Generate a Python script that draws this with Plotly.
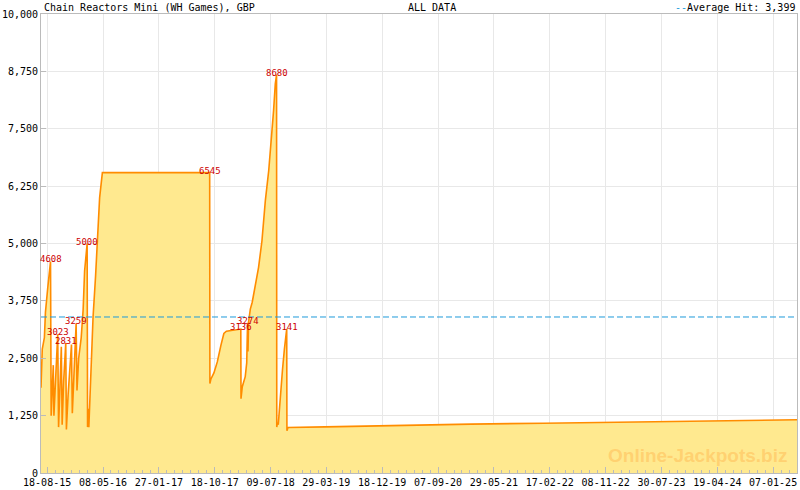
import plotly.graph_objects as go
import pandas as pd

title_text = "Chain Reactors Mini (WH Games), GBP"
period_text = "ALL DATA"
avg_hit = 3399

dates = [
    "2015-07-20", "2015-07-26", "2015-08-05", "2015-08-10", "2015-08-21", "2015-08-29", "2015-09-03",
    "2015-09-06", "2015-09-16", "2015-09-19", "2015-09-28", "2015-10-07",
    "2015-10-11", "2015-10-17", "2015-10-24", "2015-10-28", "2015-11-04", "2015-11-14",
    "2015-11-17", "2015-11-25", "2015-12-05", "2015-12-11", "2015-12-15", "2015-12-24", "2016-01-02",
    "2016-01-06", "2016-01-14", "2016-01-26", "2016-02-04", "2016-02-11", "2016-02-23",
    "2016-02-25", "2016-02-28", "2016-03-02", "2016-03-06", "2016-03-13", "2016-03-22", "2016-04-03",
    "2016-04-13", "2016-04-22", "2016-05-05", "2017-09-24",
    "2017-09-25", "2017-09-30", "2017-10-14", "2017-10-30", "2017-11-16", "2017-11-30", "2017-12-12",
    "2018-02-18",
    "2018-02-19", "2018-02-25", "2018-03-11", "2018-03-18", "2018-03-22", "2018-03-24", "2018-03-27",
    "2018-04-04", "2018-04-13", "2018-04-27", "2018-05-13", "2018-05-29", "2018-06-14", "2018-06-30",
    "2018-07-16", "2018-07-23", "2018-07-31", "2018-08-06",
    "2018-08-07", "2018-08-10", "2018-08-14", "2018-08-24", "2018-09-03", "2018-09-12", "2018-09-23",
    "2018-09-24", "2018-09-29", "2019-03-24", "2020-03-02", "2021-02-09", "2022-01-19",
    "2022-12-29", "2023-12-09", "2024-11-17", "2025-04-30",
]
values = [
    1860, 2700, 2950, 3500, 4040, 4335, 4608,
    1250, 2350, 1250, 2300, 3023,
    1000, 1900, 2750, 1050, 2000, 2831,
    950, 1700, 2400, 2800, 1300, 2200, 3259,
    1800, 2500, 2950, 3550, 4400, 5000,
    1000, 1400, 1000, 1450, 2400, 3400, 4300,
    5200, 6000, 6545, 6545,
    1950, 2050, 2180, 2420, 2780, 3040, 3090,
    3136,
    1620, 1880, 2100, 2400, 3274, 2650, 3300,
    3570, 3720, 4040, 4480, 5060, 5935, 6590,
    7390, 7900, 8480, 8680,
    1000, 1100, 1050, 1700, 2250, 2700, 3141,
    920, 990, 1005, 1040, 1065, 1085,
    1105, 1128, 1150, 1160,
]

label_dates = ["2015-09-03", "2015-10-07", "2015-11-14", "2016-01-02", "2016-02-23",
               "2017-09-24", "2018-02-18", "2018-03-22", "2018-08-06", "2018-09-23"]

x_tick_labels = ["18-08-15", "08-05-16", "27-01-17", "18-10-17", "09-07-18", "29-03-19",
                 "18-12-19", "07-09-20", "29-05-21", "17-02-22", "08-11-22", "30-07-23",
                 "19-04-24", "07-01-25"]
y_tick_values = [0, 1250, 2500, 3750, 5000, 6250, 7500, 8750, 10000]

MONO = "DejaVu Sans Mono"
series = dict(zip(dates, values))
tick_dates = pd.to_datetime(x_tick_labels, format="%d-%m-%y")

# minor ticks: 7 subdivisions between major ticks
step = (tick_dates[1] - tick_dates[0]) / 7
minor = []
t = tick_dates[0] - step
while t > pd.Timestamp(dates[0]):
    minor.append(t)
    t -= step
for a, b in zip(tick_dates[:-1], tick_dates[1:]):
    s = (b - a) / 7
    for k in range(1, 7):
        minor.append(a + s * k)
t = tick_dates[-1] + step
while t < pd.Timestamp(dates[-1]):
    minor.append(t)
    t += step

fig = go.Figure()
fig.add_trace(go.Scatter(
    x=pd.to_datetime(dates), y=values, mode="lines",
    line=dict(color="#FF8C00", width=1.6),
    fill="tozeroy", fillcolor="#FFE98F",
    hoverinfo="skip", showlegend=False,
))
fig.add_trace(go.Scatter(
    x=[pd.Timestamp(dates[0]), pd.Timestamp(dates[-1])], y=[avg_hit, avg_hit], mode="lines",
    line=dict(color="#1E9BDB", width=1, dash="6px,3px"),
    hoverinfo="skip", showlegend=False,
))

annotations = []
for d in label_dates:
    annotations.append(dict(
        x=pd.Timestamp(d), y=series[d], xref="x", yref="y", text=str(series[d]),
        showarrow=False, xanchor="center", yanchor="middle", yshift=2,
        font=dict(family=MONO, size=9, color="#CC0000"),
    ))
annotations += [
    dict(x=0, y=1, xref="paper", yref="paper", xanchor="left", yanchor="bottom",
         xshift=1, yshift=-1, text=title_text, showarrow=False,
         font=dict(family=MONO, size=10, color="#000000")),
    dict(x=0.4828, y=1, xref="paper", yref="paper", xanchor="left", yanchor="bottom",
         yshift=-1, text=period_text, showarrow=False,
         font=dict(family=MONO, size=10, color="#000000")),
    dict(x=1, y=1, xref="paper", yref="paper", xanchor="right", yanchor="bottom",
         yshift=-1,
         text='<span style="color:#1E9BDB">--</span>Average Hit: ' + f"{avg_hit:,}",
         showarrow=False, font=dict(family=MONO, size=10, color="#000000")),
    dict(x=0.99, y=0.01, xref="paper", yref="paper", xanchor="right", yanchor="bottom",
         text="<b>Online-Jackpots.biz</b>", showarrow=False,
         font=dict(family="Liberation Sans", size=19, color="rgba(255,195,95,0.65)")),
]

fig.update_layout(
    width=800, height=490,
    margin=dict(l=40, r=2, t=14, b=17),
    paper_bgcolor="white", plot_bgcolor="white",
    annotations=annotations,
    showlegend=False,
    xaxis=dict(
        type="date",
        range=[pd.Timestamp(dates[0]), pd.Timestamp(dates[-1])],
        tickmode="array", tickvals=list(tick_dates), ticktext=x_tick_labels,
        ticks="inside", ticklen=6, tickcolor="#BBBBBB", tickwidth=1,
        showline=True, linecolor="#BBBBBB", linewidth=1, mirror=True,
        showgrid=True, gridcolor="#E8E8E8", gridwidth=1,
        tickfont=dict(family=MONO, size=10, color="#000000"),
        minor=dict(tickmode="array", tickvals=minor, ticks="inside", ticklen=3,
                   tickcolor="#BBBBBB", showgrid=False),
        zeroline=False, fixedrange=True,
    ),
    yaxis=dict(
        range=[0, 10000],
        tickmode="array", tickvals=y_tick_values, tickformat=",d",
        ticks="inside", ticklen=5, tickcolor="#BBBBBB",
        showline=True, linecolor="#BBBBBB", linewidth=1, mirror=True,
        showgrid=True, gridcolor="#E8E8E8", gridwidth=1,
        tickfont=dict(family=MONO, size=10, color="#000000"),
        zeroline=False, fixedrange=True,
    ),
)

fig.write_html("out.html", config={"displayModeBar": False},
               post_script="document.body.style.margin='0';document.body.style.overflow='hidden';")
